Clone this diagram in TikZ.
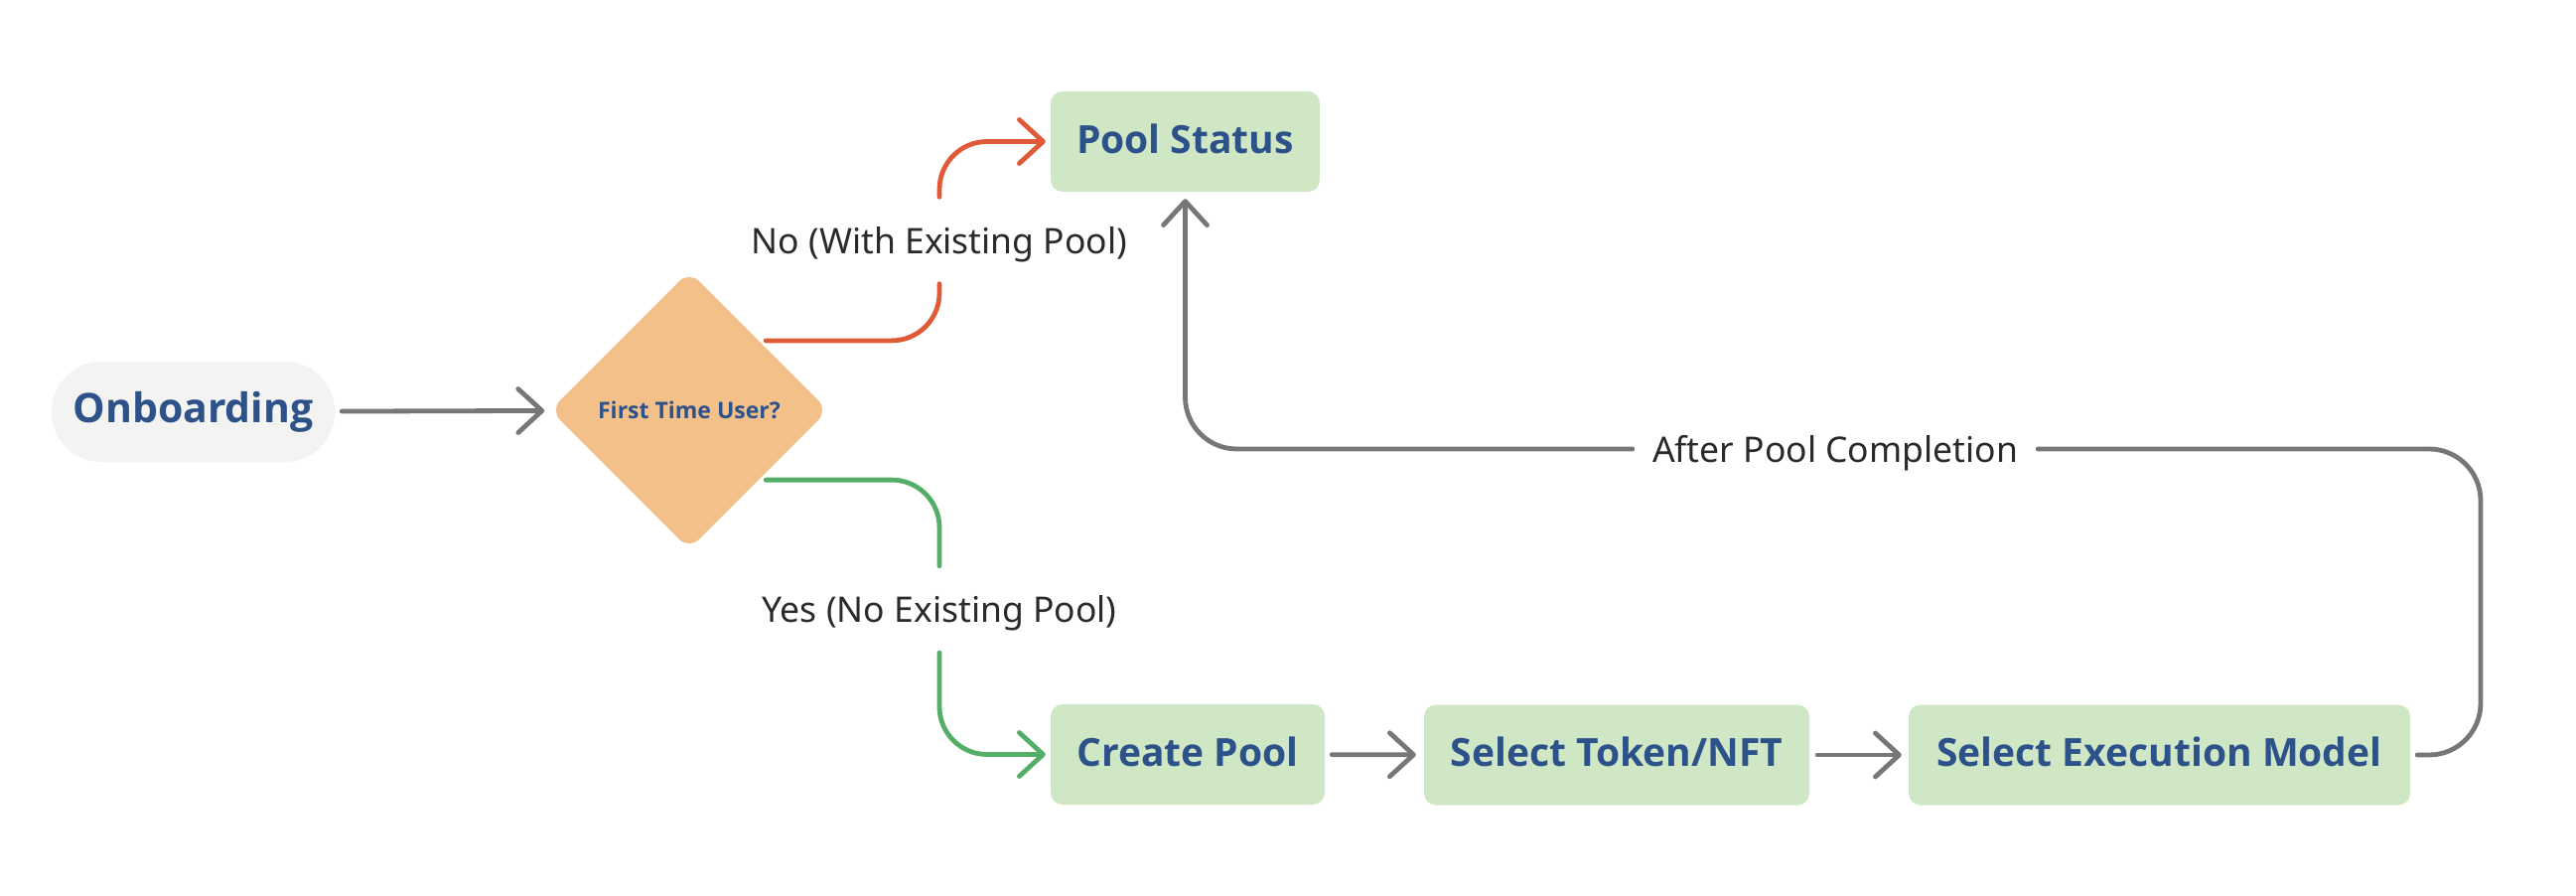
\documentclass[tikz,border=0pt]{standalone}
\usepackage{fontspec}
\setmainfont{Noto Sans}
\newfontfamily\boxfont{Open Sans}
\usetikzlibrary{arrows.meta,shapes.geometric}
\definecolor{boxgreen}{HTML}{CFE7C5}
\definecolor{txtblue}{HTML}{2D5289}
\definecolor{linegrey}{HTML}{777777}
\definecolor{linered}{HTML}{E05A37}
\definecolor{linegreen}{HTML}{55AE68}
\definecolor{decfill}{HTML}{F4C08A}
\definecolor{pillfill}{HTML}{F3F3F1}
\definecolor{labtxt}{HTML}{2A2A2A}
\tikzset{
  stepbox/.style={rectangle, rounded corners=12pt, fill=boxgreen, inner sep=0pt,
    minimum height=101pt, text height=29pt, text depth=6pt, text=txtblue,
    font=\boxfont\fontsize{39}{44}\selectfont\bfseries},
  lab/.style={inner sep=0pt, text depth=0pt, text=labtxt, font=\fontsize{35.5}{40}\selectfont},
  chev/.style={-{Straight Barb[length=24pt,width=44pt,round]}},
  conn/.style={line width=4.8pt, line cap=round, line join=round},
  gl/.style={conn, draw=linegrey},
  rl/.style={conn, draw=linered},
  grl/.style={conn, draw=linegreen},
}
\begin{document}
\begin{tikzpicture}[x=1pt,y=-1pt]
\useasboundingbox (0,0) rectangle (2594,902);
% nodes
\node[rectangle, rounded corners=50pt, fill=pillfill, minimum width=285pt, minimum height=101pt,
  inner sep=0pt, text=txtblue, font=\boxfont\fontsize{41}{46}\selectfont\bfseries] (onb) at (194.5,414.5) {Onboarding};
\node[diamond, aspect=1, fill=decfill, rounded corners=14pt, minimum width=280pt, minimum height=280pt,
  inner sep=0pt, text=txtblue, font=\boxfont\fontsize{23}{28}\selectfont\bfseries] (dec) at (694,413) {First Time User?};
\node[stepbox, minimum width=271pt] (status) at (1193.5,142.5) {Pool Status};
\node[stepbox, minimum width=276pt] (create) at (1196,759.5) {Create Pool};
\node[stepbox, minimum width=388pt] (token) at (1628,760) {Select Token/NFT};
\node[stepbox, minimum width=505pt] (exec) at (2174.5,760) {Select Execution Model};
% labels
\node[lab, minimum width=390pt, minimum height=87pt] (nolab) at (946,242) {No (With Existing Pool)};
\node[lab, minimum width=370pt, minimum height=87pt] (yeslab) at (946,613.5) {Yes (No Existing Pool)};
\node[lab, minimum width=408pt, minimum height=40pt] (afterlab) at (1848,452) {After Pool Completion};
% connectors
\draw[gl, chev, shorten <=7pt, shorten >=6pt] (onb) -- (dec);
\draw[rl, rounded corners=48pt] ([xshift=7pt]dec.north east) -| (nolab.south);
\draw[rl, chev, rounded corners=48pt, shorten >=5pt] (nolab.north) |- (status.west);
\draw[grl, rounded corners=48pt] ([xshift=7pt]dec.south east) -| (yeslab.north);
\draw[grl, chev, rounded corners=48pt, shorten >=5pt] (yeslab.south) |- (create.west);
\draw[gl, chev, shorten <=7pt, shorten >=8pt] (create) -- (token);
\draw[gl, chev, shorten <=8pt, shorten >=7pt] (token) -- (exec);
\coordinate (rc) at (2498,452);
\draw[gl, rounded corners=52pt, shorten <=7pt] (exec.east) -| (rc) -- (afterlab.east);
\draw[gl, chev, rounded corners=52pt, shorten >=7pt] (afterlab.west) -| (status.south);
\end{tikzpicture}
\end{document}
